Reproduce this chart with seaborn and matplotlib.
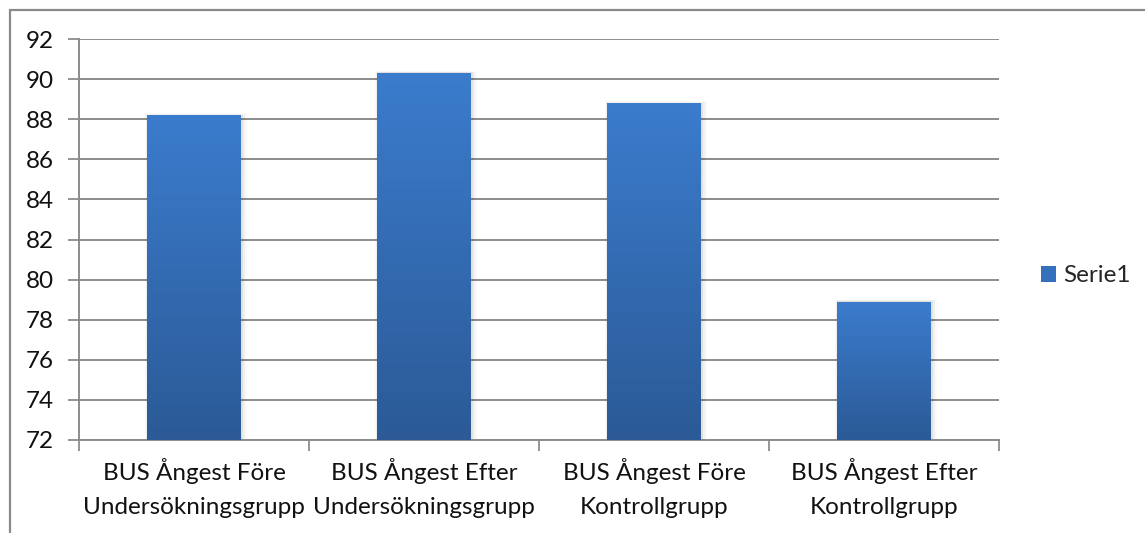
import numpy as np
import pandas as pd
import matplotlib
matplotlib.use("Agg")
import matplotlib.pyplot as plt
from matplotlib.colors import LinearSegmentedColormap
from matplotlib.patches import Rectangle, Patch
import seaborn as sns

categories = [
    "BUS Ångest Före\nUndersökningsgrupp",
    "BUS Ångest Efter\nUndersökningsgrupp",
    "BUS Ångest Före\nKontrollgrupp",
    "BUS Ångest Efter\nKontrollgrupp",
]
values = [88.2, 90.3, 88.8, 78.9]
series_name = "Serie1"
y_ticks = [72, 74, 76, 78, 80, 82, 84, 86, 88, 90, 92]

sns.set_theme(style="white")
plt.rcParams["font.family"] = ["Lato", "DejaVu Sans"]

W, H = 1145, 533
FS = 17.5
fig = plt.figure(figsize=(W / 100, H / 100), dpi=100)
ax = fig.add_axes([79 / W, 1 - 440 / H, (999 - 79) / W, (440 - 39) / H])

df = pd.DataFrame({"group": categories, "value": values})
sns.barplot(data=df, x="group", y="value", color="#3a75c4", width=0.405,
            ax=ax, zorder=3, edgecolor="none")

ymin, ymax = 72, 92
ax.set_ylim(ymin, ymax)
ax.set_xlim(-0.5, len(categories) - 0.5)

# vertical gradient fill over the visible part of each bar
grad_cmap = LinearSegmentedColormap.from_list("bar", ["#2b5a96", "#3b7ccd"])
grad = np.linspace(0, 1, 256).reshape(-1, 1)
for p in list(ax.patches):
    x0, w = p.get_x(), p.get_width()
    top = p.get_y() + p.get_height()
    p.set_visible(False)
    # soft shadow to the right / below
    for i, a in enumerate([0.06, 0.04, 0.02]):
        s = 0.01 * (i + 1)
        sh = Rectangle((x0 - s * 0.4, ymin), w + s * 1.4, top - ymin + s * 3,
                       facecolor="black", alpha=a, edgecolor="none", zorder=2)
        ax.add_patch(sh)
    clip = Rectangle((x0, ymin), w, top - ymin, transform=ax.transData,
                     facecolor="none", edgecolor="none")
    ax.add_patch(clip)
    im = ax.imshow(grad, extent=(x0, x0 + w, ymin, top), origin="lower",
                   cmap=grad_cmap, aspect="auto", zorder=4)
    im.set_clip_path(clip)

ax.set_xlim(-0.5, len(categories) - 0.5)
ax.set_ylim(ymin, ymax)

grid_c = "#8c8c8c"
ax.set_yticks(y_ticks)
ax.yaxis.grid(True, color=grid_c, linewidth=1.4, zorder=0)
ax.xaxis.grid(False)
ax.set_axisbelow(True)

ax.set_xticks(range(len(categories)))
ax.set_xticklabels(categories, fontsize=FS, linespacing=1.78, color="#111111")
ax.set_xticks(np.arange(-0.5, len(categories), 1.0), minor=True)
ax.tick_params(axis="x", which="major", length=0, pad=13)
ax.tick_params(axis="x", which="minor", length=8, width=1.3, color=grid_c,
               direction="out", bottom=True)
ax.tick_params(axis="y", length=8, width=1.3, color=grid_c, direction="out",
               left=True, labelsize=FS, labelcolor="#111111", pad=10)

for side in ["top", "right"]:
    ax.spines[side].set_visible(False)
for side in ["left", "bottom"]:
    ax.spines[side].set_color(grid_c)
    ax.spines[side].set_linewidth(1.4)

ax.set_xlabel("")
ax.set_ylabel("")

# legend
handle = Patch(facecolor="#3570bd", edgecolor="none")
fig.legend([handle], [series_name], loc="center left",
           bbox_to_anchor=(1041 / W, 1 - 276 / H), frameon=False,
           fontsize=FS, handlelength=0.62, handleheight=0.62,
           handletextpad=0.3, borderpad=0, borderaxespad=0)

# chart area border
fig.add_artist(Rectangle((10 / W, -0.05), 1.1, 1 - 10 / H + 0.05,
                         transform=fig.transFigure, fill=False,
                         edgecolor="#8a8a8a", linewidth=1.6))

fig.savefig("out.png", dpi=100)
